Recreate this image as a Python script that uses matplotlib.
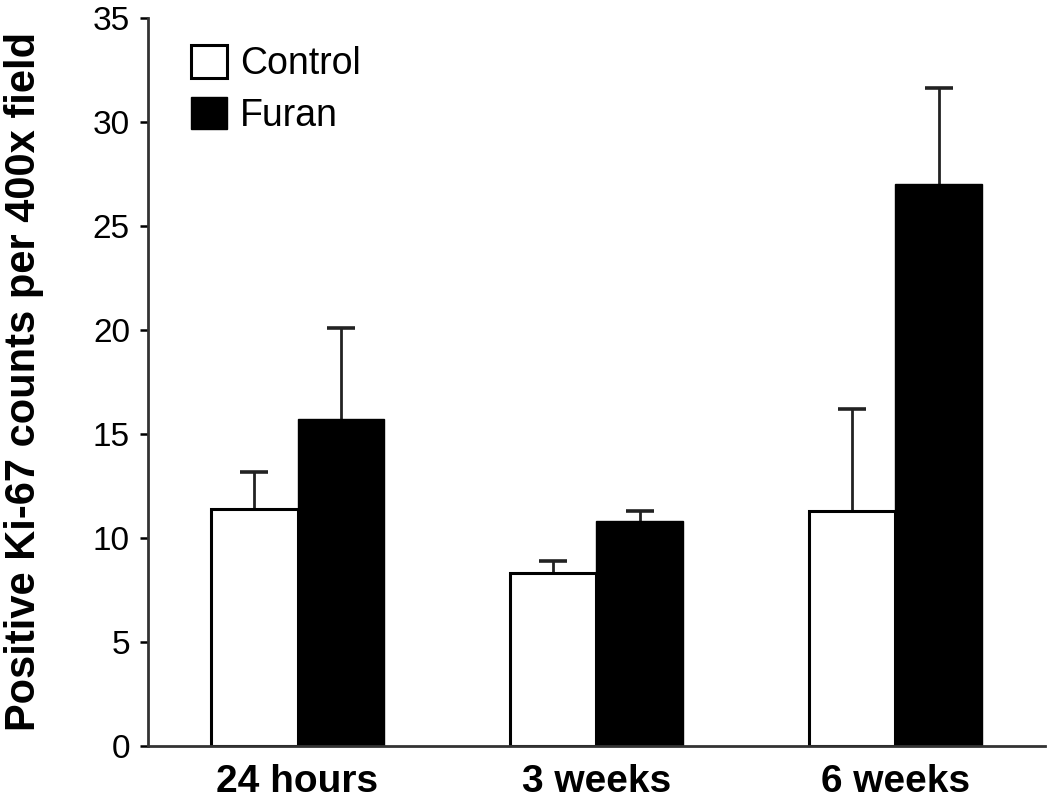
import matplotlib.pyplot as plt
import numpy as np

plt.rcParams['font.family'] = ['Liberation Sans', 'DejaVu Sans']

groups = ["24 hours", "3 weeks", "6 weeks"]
control = [11.4, 8.3, 11.3]
control_err = [1.75, 0.6, 4.9]
furan = [15.7, 10.8, 27.0]
furan_err = [4.4, 0.5, 4.6]

x = np.arange(len(groups))
w = 0.29

fig = plt.figure(figsize=(10.5, 8.02), dpi=100)
ax = fig.add_axes([0.141, 0.07, 0.854, 0.908])

ax.bar(x - w / 2, control, w, color="white", edgecolor="black", linewidth=2.2, label="Control", zorder=2)
ax.bar(x + w / 2, furan, w, color="black", edgecolor="black", linewidth=1, label="Furan", zorder=2)

# upper-only error bars with a single cap
for xs, vals, errs in [(x - w / 2, control, control_err), (x + w / 2, furan, furan_err)]:
    vals = np.array(vals)
    tops = vals + np.array(errs)
    ax.vlines(xs, vals, tops, color="#222222", linewidth=2, zorder=1)
    ax.plot(xs, tops, linestyle="none", marker="_", markersize=20, markeredgewidth=2.6,
            color="#222222", zorder=1)

ax.set_xlim(-0.5, 2.5)
ax.set_ylim(0, 35)
ax.set_yticks(range(0, 36, 5))
ax.set_xticks(x)
ax.set_xticklabels(groups, fontsize=28, fontweight="bold")
ax.tick_params(axis="x", length=0, pad=13)
ax.tick_params(axis="y", labelsize=24, length=6, width=1.8, direction="out", pad=7)

for s in ["top", "right"]:
    ax.spines[s].set_visible(False)
for s in ["left", "bottom"]:
    ax.spines[s].set_linewidth(2)
    ax.spines[s].set_color("#333333")

ax.set_ylabel("Positive Ki-67 counts per 400x field", fontsize=30, fontweight="bold", labelpad=35)

ax.legend(loc="upper left", bbox_to_anchor=(0.048, 0.962), frameon=False, fontsize=27,
          handlelength=0.96, handleheight=0.95, handletextpad=0.35, labelspacing=0.38,
          borderpad=0, borderaxespad=0)

fig.savefig("out.png", dpi=100)
